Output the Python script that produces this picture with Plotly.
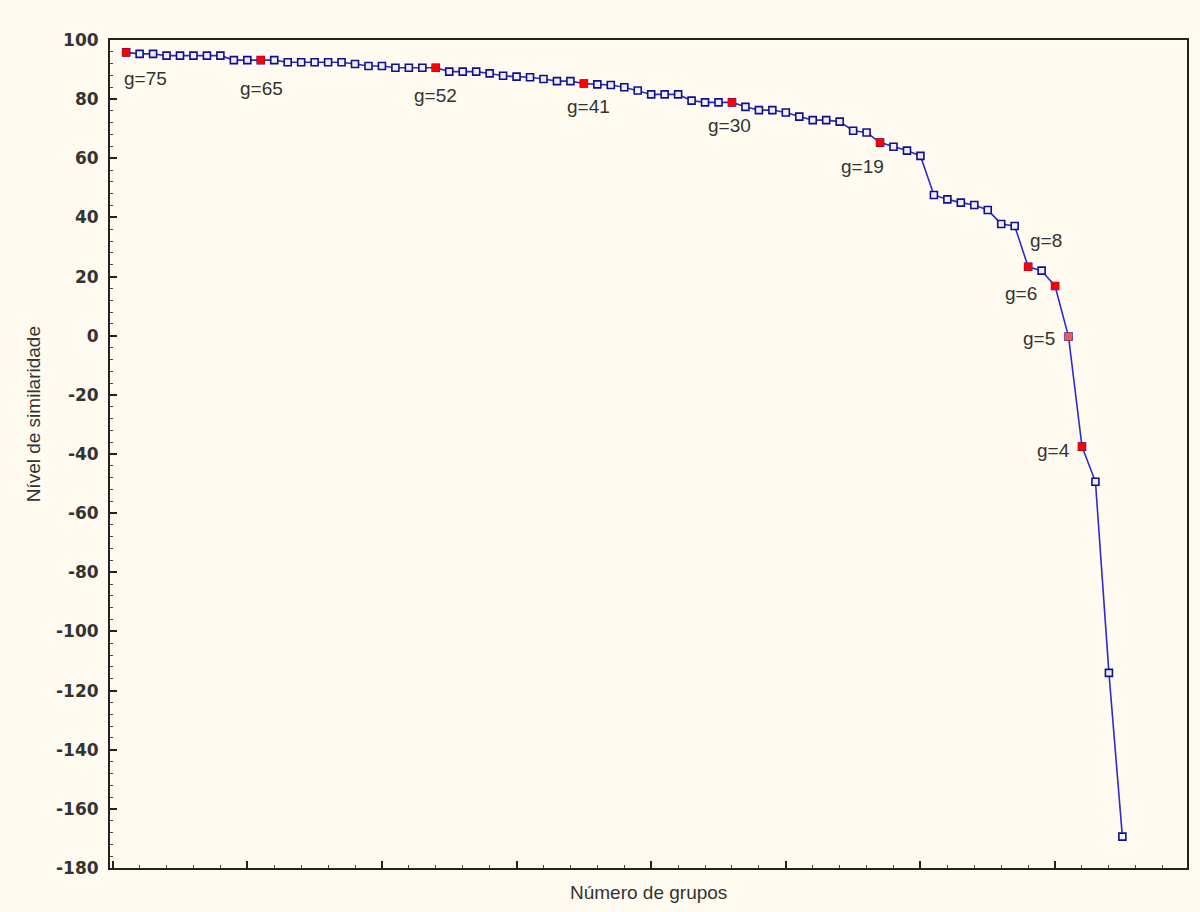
import plotly.graph_objects as go

# ---- data ----
case_index = list(range(1, 76))                 # position along the x axis
groups = list(range(75, 0, -1))                 # number of groups g (75 ... 1)
similarity = [
    95.8, 95.3, 95.3, 94.7, 94.7, 94.7, 94.7, 94.7, 93.2, 93.2,
    93.2, 93.2, 92.5, 92.5, 92.5, 92.5, 92.5, 91.9, 91.2, 91.2,
    90.6, 90.6, 90.6, 90.6, 89.3, 89.3, 89.3, 88.7, 87.9, 87.6,
    87.4, 86.8, 86.1, 86.1, 85.3, 85.0, 84.8, 84.0, 82.9, 81.6,
    81.6, 81.6, 79.5, 78.9, 78.9, 78.9, 77.4, 76.3, 76.3, 75.5,
    74.1, 72.9, 72.9, 72.4, 69.3, 68.7, 65.3, 63.9, 62.6, 60.8,
    47.6, 46.1, 45.0, 44.2, 42.5, 37.8, 37.1, 23.3, 22.0, 16.8,
    -0.3, -37.5, -49.4, -114.0, -169.4,
]
highlight_groups = [75, 65, 52, 41, 30, 19, 8, 6, 5, 4]
highlight_colors = ["#FF0000"] * 8 + ["#E85A64", "#FF0000"]
# label offsets in pixels (dx to the right, dy downward) from the highlighted point
label_offsets = {75: (19, 26), 65: (1, 28), 52: (0, 28), 41: (5, 23),
                 30: (-2, 23), 19: (-18, 24), 8: (18, -26), 6: (-34, 7),
                 5: (-30, 2), 4: (-28, 4)}

y_ticks = list(range(-180, 101, 20))
y_tick_text = [str(v) for v in y_ticks]

BG = "#FFFBF0"
FONT = "Liberation Sans, Arial, sans-serif"

hx = [case_index[groups.index(g)] for g in highlight_groups]
hy = [similarity[groups.index(g)] for g in highlight_groups]

fig = go.Figure()
fig.add_trace(go.Scatter(
    x=case_index, y=similarity, mode="lines+markers",
    line=dict(color="#2B2BD0", width=1.6),
    marker=dict(symbol="square", size=7, color="#EEF0FF",
                line=dict(color="#10108A", width=1.6)),
    hoverinfo="x+y", showlegend=False,
))
fig.add_trace(go.Scatter(
    x=hx, y=hy, mode="markers",
    marker=dict(symbol="square", size=8, color=highlight_colors,
                line=dict(width=0)),
    showlegend=False,
))

for g, x, y in zip(highlight_groups, hx, hy):
    dx, dy = label_offsets[g]
    fig.add_annotation(x=x, y=y, text=f"g={g}", showarrow=False,
                       xshift=dx, yshift=-dy, xanchor="center", yanchor="middle",
                       font=dict(family=FONT, size=19, color="#333333"))

fig.add_annotation(xref="paper", yref="paper", x=0.5, y=-0.030,
                   text="Número de grupos", showarrow=False,
                   xanchor="center", yanchor="middle",
                   font=dict(family=FONT, size=19, color="#333333"))
fig.add_annotation(xref="paper", yref="paper", x=-0.0714, y=0.548,
                   text="Nível de similaridade", showarrow=False, textangle=-90,
                   xanchor="center", yanchor="middle",
                   font=dict(family=FONT, size=19, color="#333333"))

fig.update_layout(
    width=1200, height=912,
    margin=dict(l=110, r=11, t=40, b=44),
    paper_bgcolor=BG, plot_bgcolor=BG,
    showlegend=False,
    xaxis=dict(range=[-0.2, 79.8], tick0=0, dtick=10, showticklabels=False,
               ticks="inside", ticklen=7, tickwidth=1.5, tickcolor="#222222",
               minor=dict(dtick=2, ticks="inside", ticklen=3, tickwidth=1,
                          tickcolor="#444444"),
               showgrid=False, zeroline=False,
               showline=True, linecolor="#222222", linewidth=2, mirror=True),
    yaxis=dict(range=[-180, 100], tickvals=y_ticks, ticktext=y_tick_text,
               ticks="inside", ticklen=7, tickwidth=1.5, tickcolor="#222222",
               minor=dict(dtick=4, ticks="inside", ticklen=3, tickwidth=1,
                          tickcolor="#444444"),
               tickfont=dict(family="DejaVu Sans, sans-serif", size=17,
                             color="#333333", weight="bold"),
               ticklabelstandoff=6,
               showgrid=False, zeroline=False,
               showline=True, linecolor="#222222", linewidth=2, mirror=True),
)

fig.write_html(
    "out.html",
    config={"displayModeBar": False},
    post_script=("document.body.style.margin='0';"
                 "document.body.style.background='" + BG + "';"),
)
